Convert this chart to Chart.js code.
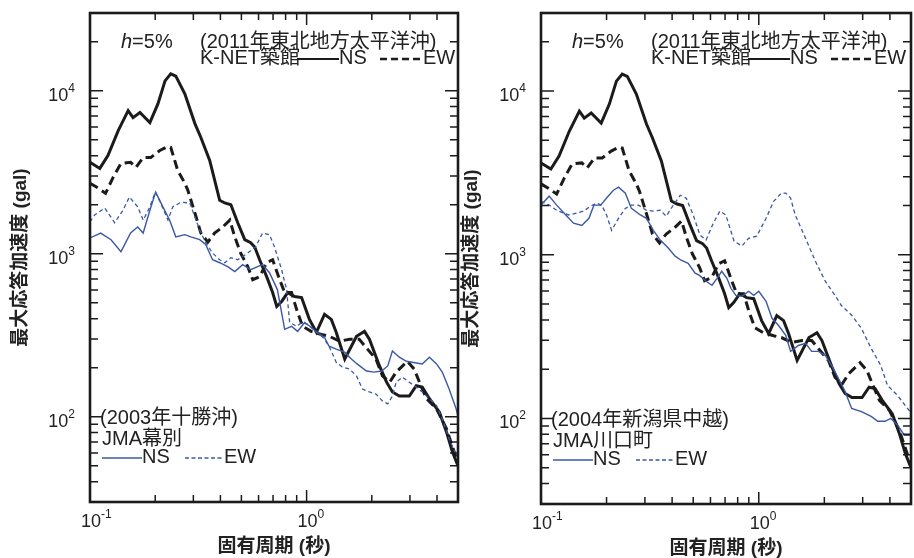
<!DOCTYPE html>
<html>
<head>
<meta charset="utf-8">
<script src="https://cdn.jsdelivr.net/npm/chart.js@4.4.1/dist/chart.umd.min.js"></script>
<style>
  body { margin: 0; background: #fff; }
  #wrap { position: relative; width: 914px; height: 558px; overflow: hidden; }
  canvas { position: absolute; top: 0; }
</style>
</head>
<body>
<div id="wrap">
  <canvas id="left" width="460" height="558" style="left:0"></canvas>
  <canvas id="right" width="454" height="558" style="left:460px"></canvas>
</div>
<script>
// K-NET Tsukidate (2011 Tohoku), same curves in both panels
const knetNsT = [0.1, 0.111, 0.121, 0.135, 0.150, 0.158, 0.170, 0.189, 0.206, 0.222, 0.236, 0.249, 0.274, 0.305, 0.325, 0.357, 0.397, 0.419, 0.447, 0.481, 0.518, 0.552, 0.576, 0.607, 0.654, 0.697, 0.728, 0.767, 0.818, 0.880, 0.948, 1.03, 1.11, 1.21, 1.30, 1.37, 1.50, 1.70, 1.85, 1.95, 2.17, 2.34, 2.49, 2.68, 2.98, 3.21, 3.42, 3.69, 4.10, 4.42, 4.71, 5.0];
const knetNsA = [3640, 3340, 4010, 5700, 7550, 6840, 7350, 6380, 8330, 11500, 12700, 12300, 9590, 6290, 5170, 3740, 2130, 2050, 2000, 1550, 1220, 1170, 1100, 919, 724, 578, 475, 510, 578, 547, 539, 396, 330, 425, 396, 330, 226, 312, 334, 299, 205, 163, 142, 134, 134, 155, 152, 129, 107, 81, 61, 50];
const knetEwT = [0.1, 0.109, 0.118, 0.128, 0.139, 0.154, 0.163, 0.176, 0.191, 0.210, 0.229, 0.236, 0.254, 0.274, 0.283, 0.305, 0.325, 0.350, 0.376, 0.410, 0.442, 0.466, 0.496, 0.535, 0.564, 0.607, 0.654, 0.697, 0.751, 0.792, 0.852, 0.899, 0.958, 1.05, 1.17, 1.27, 1.42, 1.58, 1.75, 1.91, 2.09, 2.24, 2.42, 2.59, 2.92, 3.14, 3.32, 3.58, 3.98, 4.42, 5.0];
const knetEwA = [2710, 2530, 2350, 2950, 3590, 3640, 3390, 3900, 3900, 4300, 4560, 4490, 3250, 2710, 2450, 1780, 1340, 1180, 1340, 1460, 1610, 1270, 1010, 834, 694, 724, 881, 919, 694, 578, 578, 456, 359, 334, 320, 312, 291, 299, 299, 260, 226, 178, 163, 188, 219, 196, 163, 129, 112, 84.5, 52];

// JMA Makubetsu (2003 Tokachi-oki), left panel
const makNsT = [0.1, 0.112, 0.125, 0.139, 0.154, 0.166, 0.176, 0.189, 0.201, 0.217, 0.233, 0.249, 0.274, 0.292, 0.321, 0.342, 0.368, 0.397, 0.432, 0.466, 0.507, 0.552, 0.594, 0.626, 0.674, 0.733, 0.792, 0.852, 0.909, 0.979, 1.05, 1.12, 1.21, 1.27, 1.37, 1.50, 1.61, 1.71, 1.89, 2.05, 2.22, 2.37, 2.49, 2.68, 2.89, 3.07, 3.42, 3.69, 3.98, 4.23, 4.55, 4.90, 5.0];
const makNsA = [1250, 1340, 1220, 1030, 1340, 1460, 1340, 1850, 2390, 1940, 1610, 1270, 1310, 1270, 1220, 1140, 919, 881, 834, 777, 857, 798, 834, 857, 765, 603, 344, 359, 334, 379, 354, 330, 307, 271, 260, 249, 226, 211, 191, 188, 191, 205, 253, 232, 219, 216, 211, 232, 211, 188, 148, 112, 101];
const makEwT = [0.1, 0.105, 0.117, 0.130, 0.142, 0.152, 0.166, 0.176, 0.189, 0.200, 0.212, 0.229, 0.241, 0.263, 0.289, 0.305, 0.321, 0.342, 0.368, 0.397, 0.419, 0.447, 0.481, 0.535, 0.581, 0.626, 0.674, 0.711, 0.767, 0.808, 0.835, 0.899, 0.948, 1.01, 1.11, 1.19, 1.27, 1.37, 1.46, 1.58, 1.70, 1.81, 1.95, 2.09, 2.24, 2.37, 2.49, 2.59, 2.77, 2.98, 3.21, 3.42, 3.69, 3.98, 4.23, 4.55, 5.0];
const makEwA = [1570, 1730, 1910, 1550, 1850, 2230, 1940, 1610, 1940, 2390, 2050, 1610, 1940, 2070, 2050, 1680, 1400, 1170, 1010, 919, 881, 946, 919, 1010, 1100, 1340, 1310, 1100, 798, 603, 379, 359, 379, 369, 330, 307, 271, 216, 202, 196, 178, 148, 142, 138, 125, 120, 134, 163, 175, 163, 152, 142, 129, 117, 97, 73.5, 55];

// JMA Kawaguchi (2004 Chuetsu), right panel
const kawNsT = [0.1, 0.109, 0.118, 0.130, 0.141, 0.154, 0.166, 0.175, 0.188, 0.200, 0.215, 0.227, 0.244, 0.260, 0.286, 0.305, 0.328, 0.353, 0.384, 0.413, 0.440, 0.474, 0.510, 0.532, 0.573, 0.610, 0.643, 0.676, 0.714, 0.745, 0.785, 0.836, 0.898, 0.948, 1.00, 1.08, 1.15, 1.23, 1.33, 1.40, 1.52, 1.64, 1.75, 1.88, 2.02, 2.16, 2.32, 2.49, 2.67, 2.96, 3.28, 3.52, 3.80, 4.04, 4.34, 4.66, 5.0];
const kawNsA = [2010, 2280, 2010, 1750, 1560, 1510, 1670, 2010, 2010, 2220, 2480, 2590, 2380, 1920, 1750, 1670, 1410, 1230, 1100, 980, 926, 887, 771, 750, 689, 651, 718, 792, 718, 624, 565, 557, 598, 565, 598, 520, 409, 371, 322, 257, 279, 288, 257, 257, 243, 211, 176, 146, 115, 110, 103, 96, 96, 100, 91, 79, 79];
const kawEwT = [0.1, 0.109, 0.118, 0.134, 0.146, 0.157, 0.169, 0.180, 0.190, 0.200, 0.211, 0.227, 0.244, 0.260, 0.280, 0.305, 0.328, 0.353, 0.376, 0.405, 0.436, 0.464, 0.500, 0.537, 0.573, 0.617, 0.663, 0.706, 0.770, 0.836, 0.898, 0.979, 1.08, 1.17, 1.27, 1.33, 1.40, 1.47, 1.64, 1.82, 2.02, 2.24, 2.39, 2.67, 2.96, 3.28, 3.63, 3.90, 4.34, 5.0];
const kawEwA = [2120, 2010, 1870, 1750, 1800, 1850, 1980, 2070, 2010, 1750, 1410, 1670, 1920, 2010, 2010, 1870, 1850, 1870, 1720, 2010, 2310, 2220, 1750, 1320, 1230, 1550, 1850, 1750, 1210, 1130, 1260, 1300, 1670, 2120, 2380, 2380, 2220, 1750, 1260, 912, 689, 565, 491, 427, 355, 268, 211, 159, 138, 108];

// axis ranges and labelled decades
const X_MIN = 0.1, X_MAX = 5;
const Y_MIN = 30, Y_MAX = 30000;
const xDecades = [0.1, 1];
const xDecadeExp = ['-1', '0'];
const yDecades = [10, 100, 1000, 10000];
const yLabelVals = [100, 1000, 10000];
const yLabelExp = ['2', '3', '4'];

const BLACK = '#1b1b1b';
const BLUE = '#3a58a4';
const LATIN = '"Liberation Sans", Arial, "Noto Sans CJK JP", sans-serif';

function pts(ts, as) {
  return ts.map((t, i) => ({ x: t, y: as[i] }));
}

function makeDatasets(nsT, nsA, ewT, ewA) {
  const base = { pointRadius: 0, tension: 0, fill: false };
  return [
    { ...base, label: 'JMA NS', data: pts(nsT, nsA), borderColor: BLUE, borderWidth: 1.4 },
    { ...base, label: 'JMA EW', data: pts(ewT, ewA), borderColor: BLUE, borderWidth: 1.3, borderDash: [4, 3] },
    { ...base, label: 'K-NET NS', data: pts(knetNsT, knetNsA), borderColor: BLACK, borderWidth: 3 },
    { ...base, label: 'K-NET EW', data: pts(knetEwT, knetEwA), borderColor: BLACK, borderWidth: 3, borderDash: [9, 5] }
  ];
}

// "10" with a small exponent
function drawPow(ctx, xLeft, baseline, exp) {
  ctx.font = '18px ' + LATIN;
  ctx.fillText('10', xLeft, baseline);
  const w = ctx.measureText('10').width;
  ctx.font = '12px ' + LATIN;
  ctx.fillText(exp, xLeft + w, baseline - 9);
}
function powWidth(ctx, exp) {
  ctx.font = '18px ' + LATIN;
  const w = ctx.measureText('10').width;
  ctx.font = '12px ' + LATIN;
  return w + ctx.measureText(exp).width;
}

function legendLine(ctx, x1, x2, y, color, width, dash) {
  ctx.save();
  ctx.strokeStyle = color;
  ctx.lineWidth = width;
  ctx.setLineDash(dash);
  ctx.beginPath();
  ctx.moveTo(x1, y);
  ctx.lineTo(x2, y);
  ctx.stroke();
  ctx.restore();
}

const panelDecor = {
  id: 'panelDecor',
  afterDraw(chart, args, opts) {
    const { ctx, chartArea: a } = chart;
    const xs = chart.scales.x, ys = chart.scales.y;
    ctx.save();

    // inward ticks on all four sides
    ctx.strokeStyle = BLACK;
    ctx.lineWidth = 1.5;
    ctx.beginPath();
    xDecades.forEach(d => {
      for (let m = 1; m <= 9; m++) {
        const v = d * m;
        if (v < X_MIN || v > X_MAX) continue;
        const px = xs.getPixelForValue(v);
        const len = m === 1 ? 12 : 7;
        ctx.moveTo(px, a.bottom); ctx.lineTo(px, a.bottom - len);
        ctx.moveTo(px, a.top); ctx.lineTo(px, a.top + len);
      }
    });
    yDecades.forEach(d => {
      for (let m = 1; m <= 9; m++) {
        const v = d * m;
        if (v < Y_MIN || v > Y_MAX) continue;
        const py = ys.getPixelForValue(v);
        const len = m === 1 ? 13 : 8;
        ctx.moveTo(a.left, py); ctx.lineTo(a.left + len, py);
        ctx.moveTo(a.right, py); ctx.lineTo(a.right - len, py);
      }
    });
    ctx.stroke();

    // frame
    ctx.lineWidth = 2.6;
    ctx.strokeRect(a.left, a.top, a.right - a.left, a.bottom - a.top);

    // tick labels
    ctx.fillStyle = '#222';
    ctx.textAlign = 'left';
    ctx.textBaseline = 'alphabetic';
    xDecades.forEach((v, i) => {
      const px = xs.getPixelForValue(v);
      drawPow(ctx, px - 9, a.bottom + 25, xDecadeExp[i]);
    });
    yLabelVals.forEach((v, i) => {
      const py = ys.getPixelForValue(v);
      const w = powWidth(ctx, yLabelExp[i]);
      drawPow(ctx, a.left - 15 - w, py + 10, yLabelExp[i]);
    });

    // axis titles
    ctx.font = 'bold 19px ' + LATIN;
    ctx.textAlign = 'center';
    ctx.textBaseline = 'middle';
    ctx.fillText('固有周期 (秒)', (a.left + a.right) / 2, a.bottom + 45);
    ctx.save();
    ctx.translate(a.left - 69, (a.top + a.bottom) / 2);
    ctx.rotate(-Math.PI / 2);
    ctx.fillText('最大応答加速度 (gal)', 0, 0);
    ctx.restore();

    // top annotation (K-NET)
    ctx.textAlign = 'left';
    ctx.font = 'italic 20px ' + LATIN;
    ctx.fillText('h', a.left + 31, a.top + 29);
    const hw = ctx.measureText('h').width;
    ctx.font = '20px ' + LATIN;
    ctx.fillText('=5%', a.left + 31 + hw, a.top + 29);
    ctx.fillText('(2011年東北地方太平洋沖)', a.left + 110, a.top + 29);
    const ky = a.top + 45;
    ctx.fillText('K-NET築館', a.left + 110, ky);
    legendLine(ctx, a.left + 207, a.left + 249, ky + 1, BLACK, 2.2, []);
    ctx.fillText('NS', a.left + 249, ky);
    legendLine(ctx, a.left + 290, a.left + 333, ky + 1, BLACK, 2.4, [7, 4]);
    ctx.fillText('EW', a.left + 333, ky);

    // bottom annotation (JMA)
    ctx.fillText(opts.event, a.left + 10, a.bottom - 84);
    ctx.fillText(opts.station, a.left + 12, a.bottom - 63);
    const jy = a.bottom - 45;
    legendLine(ctx, a.left + 12, a.left + 52, jy + 1, BLUE, 1.5, []);
    ctx.fillText('NS', a.left + 52, jy);
    legendLine(ctx, a.left + 95, a.left + 134, jy + 1, BLUE, 1.4, [4, 2.5]);
    ctx.fillText('EW', a.left + 134, jy);

    ctx.restore();
  }
};

function makeChart(id, pad, datasets, event, station) {
  return new Chart(document.getElementById(id), {
    type: 'line',
    data: { datasets: datasets },
    options: {
      responsive: false,
      animation: false,
      layout: { padding: pad },
      plugins: {
        legend: { display: false },
        tooltip: { enabled: false },
        panelDecor: { event: event, station: station }
      },
      scales: {
        x: { type: 'logarithmic', min: X_MIN, max: X_MAX, display: false },
        y: { type: 'logarithmic', min: Y_MIN, max: Y_MAX, display: false }
      }
    },
    plugins: [panelDecor]
  });
}

makeChart('left', { left: 90, right: 2, top: 13, bottom: 56 },
  makeDatasets(makNsT, makNsA, makEwT, makEwA), '(2003年十勝沖)', 'JMA幕別');
makeChart('right', { left: 81, right: 3, top: 13, bottom: 54 },
  makeDatasets(kawNsT, kawNsA, kawEwT, kawEwA), '(2004年新潟県中越)', 'JMA川口町');
</script>
</body>
</html>
